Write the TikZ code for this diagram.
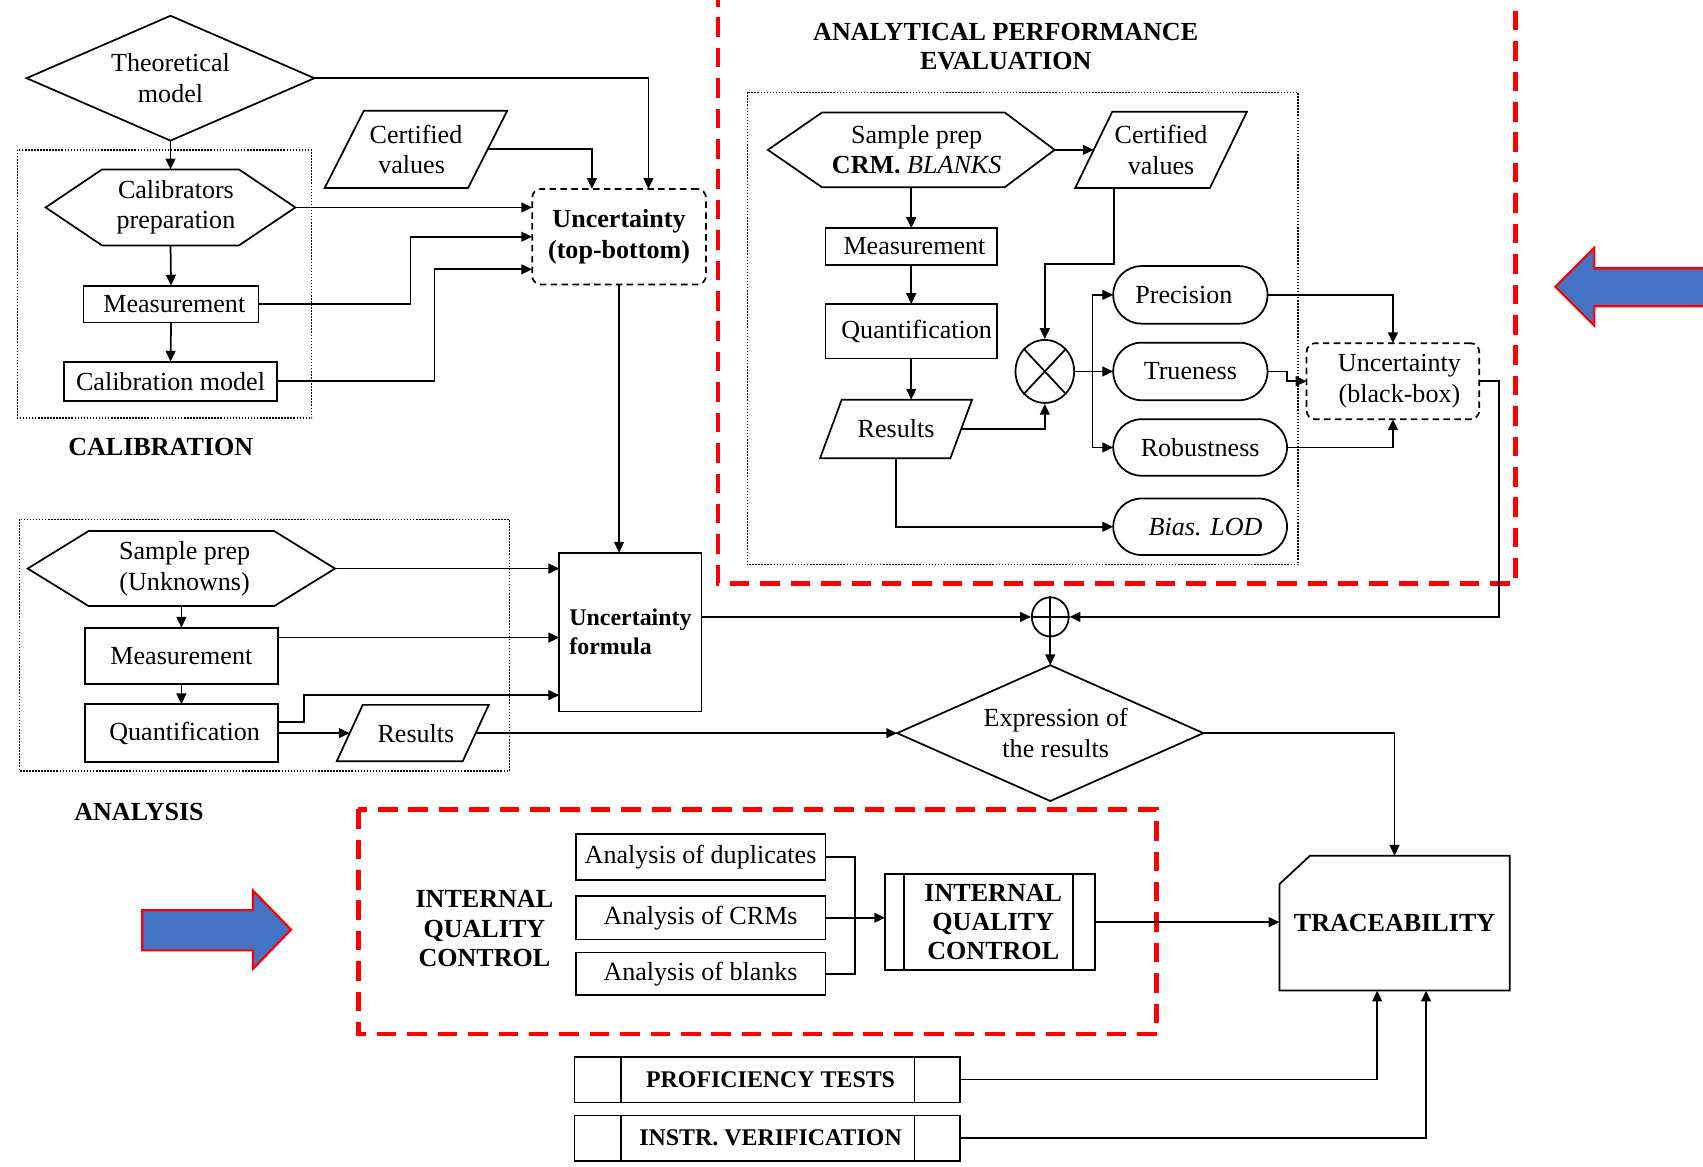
\documentclass[tikz,border=0pt]{standalone}
\usepackage{fontspec}
\setmainfont{Liberation Serif}
\usetikzlibrary{calc,shapes.geometric,arrows.meta}
\definecolor{arrowblue}{RGB}{68,114,196}
\begin{document}
\begin{tikzpicture}[x=0.5pt,y=-0.5pt,
  lbl/.style={font=\fontsize{12}{14}\selectfont, align=center, inner sep=0pt, outer sep=0pt},
  bf/.style={font=\fontsize{12}{14}\selectfont\bfseries},
  sz/.style 2 args={minimum width=#1*0.5pt, minimum height=#2*0.5pt},
  inv/.style={lbl},
  bx/.style={lbl, draw, line width=0.8pt},
  shp/.style={line width=0.8pt, line join=miter},
  ln/.style={line width=0.8pt},
  ar/.style={line width=0.8pt, -{Triangle[length=5pt,width=4.5pt]}},
  dotbox/.style={draw, line width=0.6pt, dash pattern=on 0.7pt off 0.7pt},
  dbox/.style={lbl, draw, line width=0.8pt, dash pattern=on 3pt off 2pt, rounded corners=4pt},
  stad/.style={lbl, draw, line width=0.8pt, rounded corners=13pt},
  redbox/.style={draw=red, line width=2.2pt, dash pattern=on 9pt off 5pt},
  ttl/.style={font=\fontsize{12}{13.5}\selectfont\bfseries, align=center, inner sep=0pt},
  bluearrow/.style={fill=arrowblue, draw=red, line width=1pt},
]
\useasboundingbox (0,0) rectangle (1568,1074);

% frames
\draw[redbox] (661,-40) rectangle (1395,537);
\draw[redbox] (330,745) rectangle (1065,952);
\draw[dotbox] (16,138) rectangle (287,385);
\draw[dotbox] (18,478) rectangle (469,710);
\draw[dotbox] (688,85) rectangle (1195,520);

% calibration
\node[inv, sz={265}{115}] (tm) at (157,72) {Theoretical\\model};
\node[inv, sz={230}{70}] (cal) at (157,191) {\hspace*{5pt}Calibrators\\\hspace*{5pt}preparation};
\node[bx, sz={161}{34}] (mes1) at (157.5,280) {\hspace*{3pt}Measurement};
\node[bx, sz={196}{36}] (calm) at (157,351) {Calibration model};
\node[ttl] (calt) at (148,412) {CALIBRATION};
\node[inv, sz={168}{71}] (cv1) at (383,137.5) {Certified\\values\hspace*{4pt}};
\node[dbox, bf, sz={160}{88}] (utb) at (570,218) {Uncertainty\\(top-bottom)};

% analysis
\node[inv, sz={283}{69}] (sp) at (167,523.5) {\hspace*{3pt}Sample prep\\\hspace*{3pt}(Unknowns)};
\node[bx, sz={178}{52}] (mes2) at (167,604) {Measurement};
\node[bx, sz={178}{53}] (qu2) at (167,675) {\hspace*{3pt}Quantification};
\node[inv, sz={140}{52}] (res2) at (380,675) {\hspace*{3pt}Results};
\node[bx, font=\fontsize{11}{13.5}\selectfont\bfseries, sz={131}{146}, align=left] (uf) at (580.5,582) {Uncertainty\\formula};
\node[ttl] (anat) at (128,748) {ANALYSIS};

% middle
\node[draw, ellipse, line width=0.8pt, sz={34}{36}, inner sep=0pt] (plus) at (967,568) {};
\node[inv, sz={282}{125}] (expr) at (967,675) {\hspace*{5pt}Expression of\\\hspace*{5pt}the results};
\node[inv, bf, sz={212}{124}] (trace) at (1284,850) {TRACEABILITY};

% internal quality control
\node[ttl] (iqct) at (446,855) {INTERNAL\\QUALITY\\CONTROL};
\node[bx, sz={230}{42}] (ad) at (645,789) {Analysis of duplicates};
\node[bx, sz={230}{40}] (ac) at (645,845) {Analysis of CRMs};
\node[bx, sz={230}{39}] (ab) at (645,896.5) {Analysis of blanks};
\node[bx, font=\fontsize{12}{13.5}\selectfont\bfseries, sz={193}{88}] (iqcb) at (911.5,849) {\hspace*{3pt}INTERNAL\\\hspace*{3pt}QUALITY\\\hspace*{3pt}CONTROL};
\node[bx, font=\fontsize{11}{13}\selectfont\bfseries, sz={355}{42}] (pt) at (706.5,994) {\hspace*{3pt}PROFICIENCY TESTS};
\node[bx, font=\fontsize{11}{13}\selectfont\bfseries, sz={355}{42}] (iv) at (706.5,1048) {\hspace*{3pt}INSTR. VERIFICATION};

% analytical performance evaluation
\node[ttl] (apet) at (926,43) {ANALYTICAL PERFORMANCE\\EVALUATION};
\node[inv, sz={264}{69}] (sp2) at (839,138) {\hspace*{5pt}Sample prep\\\hspace*{5pt}\textbf{CRM.} \textit{BLANKS}};
\node[inv, sz={158}{70}] (cv2) at (1069,138) {Certified\\values};
\node[bx, sz={158}{34}] (mes3) at (839,227) {\hspace*{3pt}Measurement};
\node[bx, sz={158}{50}] (qu3) at (839,305) {\hspace*{5pt}Quantification};
\node[inv, sz={140}{54}] (res3) at (825,395) {Results};
\node[draw, ellipse, line width=0.8pt, sz={54}{58}, inner sep=0pt] (ot) at (962,342) {};
\node[stad, sz={142}{53}] (prec) at (1096,271.5) {Precision\hspace*{6pt}};
\node[stad, sz={142}{53}] (tru) at (1096,342) {Trueness};
\node[stad, sz={160}{52}] (rob) at (1105,412) {Robustness};
\node[stad, sz={160}{52}] (bias) at (1105,485) {\hspace*{5pt}\textit{Bias. LOD}};
\node[dbox, sz={159}{70}] (ubb) at (1282.5,351) {\hspace*{6pt}Uncertainty\\\hspace*{6pt}(black-box)};

% shape outlines
\draw[shp] (tm.west) -- (tm.north) -- (tm.east) -- (tm.south) -- cycle;
\draw[shp] (expr.west) -- (expr.north) -- (expr.east) -- (expr.south) -- cycle;
\draw[shp] (cal.west) -- ($(cal.north west)+(52,0)$) -- ($(cal.north east)+(-52,0)$) -- (cal.east) -- ($(cal.south east)+(-52,0)$) -- ($(cal.south west)+(52,0)$) -- cycle;
\draw[shp] (sp.west) -- ($(sp.north west)+(56,0)$) -- ($(sp.north east)+(-56,0)$) -- (sp.east) -- ($(sp.south east)+(-56,0)$) -- ($(sp.south west)+(56,0)$) -- cycle;
\draw[shp] (sp2.west) -- ($(sp2.north west)+(50,0)$) -- ($(sp2.north east)+(-46,0)$) -- (sp2.east) -- ($(sp2.south east)+(-46,0)$) -- ($(sp2.south west)+(50,0)$) -- cycle;
\draw[shp] ($(cv1.north west)+(36,0)$) -- (cv1.north east) -- ($(cv1.south east)+(-36,0)$) -- (cv1.south west) -- cycle;
\draw[shp] ($(cv2.north west)+(34,0)$) -- (cv2.north east) -- ($(cv2.south east)+(-34,0)$) -- (cv2.south west) -- cycle;
\draw[shp] ($(res2.north west)+(24,0)$) -- (res2.north east) -- ($(res2.south east)+(-24,0)$) -- (res2.south west) -- cycle;
\draw[shp] ($(res3.north west)+(20,0)$) -- (res3.north east) -- ($(res3.south east)+(-20,0)$) -- (res3.south west) -- cycle;
\draw[shp] (trace.south west) -- ($(trace.north west)+(0,26)$) -- ($(trace.north west)+(28,0)$) -- (trace.north east) -- (trace.south east) -- cycle;
\draw[ln] ($(iqcb.north west)+(17,0)$) -- ($(iqcb.south west)+(17,0)$);
\draw[ln] ($(iqcb.north east)+(-20,0)$) -- ($(iqcb.south east)+(-20,0)$);
\draw[ln] ($(pt.north west)+(43,0)$) -- ($(pt.south west)+(43,0)$);
\draw[ln] ($(pt.north east)+(-42,0)$) -- ($(pt.south east)+(-42,0)$);
\draw[ln] ($(iv.north west)+(43,0)$) -- ($(iv.south west)+(43,0)$);
\draw[ln] ($(iv.north east)+(-42,0)$) -- ($(iv.south east)+(-42,0)$);
\draw[ln] (ot.north west) -- (ot.south east);
\draw[ln] (ot.north east) -- (ot.south west);
\draw[ln] (plus.north) -- (plus.south);
\draw[ln] (plus.west) -- (plus.east);

% blue arrows
\draw[bluearrow] (131,838) -- (233,838) -- (233,820) -- (268,856) -- (233,892) -- (233,875) -- (131,875) -- cycle;
\draw[bluearrow] (1600,247) -- (1468,247) -- (1468,228) -- (1432,264) -- (1468,300) -- (1468,282) -- (1600,282) -- cycle;

% connectors: calibration
\draw[ar] (tm.south) -- (cal.north);
\draw[ar] (cal.south) -- (mes1.north);
\draw[ar] (mes1.south) -- (calm.north);
\draw[ar] (tm.east) -| ($(utb.north)+(27,0)$);
\draw[ar] ($(cv1.east)+(-18,0)$) -| ($(utb.north)+(-25,0)$);
\draw[ar] (cal.east) -- (cal.east -| utb.west);
\draw[ar] (mes1.east) -- ++(140,0) |- (utb.west);
\draw[ar] (calm.east) -- ++(145,0) |- ($(utb.west)+(0,30)$);
\draw[ar] (utb.south) -- (utb.south |- uf.north);

% connectors: analysis
\draw[ar] (sp.south) -- (mes2.north);
\draw[ar] (mes2.south) -- (qu2.north);
\draw[ar] (sp.east) -- (sp.east -| uf.west);
\coordinate (m2o) at ($(mes2.north east)+(0,9)$);
\draw[ar] (m2o) -- (m2o -| uf.west);
\draw[ar] ($(qu2.east)+(0,-10)$) -- ++(24,0) |- ($(uf.west)+(0,58)$);
\draw[ar] (qu2.east) -- ($(res2.west)+(12,0)$);
\draw[ar] ($(res2.east)+(-12,0)$) -- (expr.west);
\coordinate (ufo) at ($(uf.east)+(0,-14)$);
\draw[ar] (ufo) -- (plus.west);
\draw[ar] (ubb.east) -- ++(18,0) |- (plus.east);
\draw[ar] (plus.south) -- (expr.north);
\draw[ar] (expr.east) -| (trace.north);

% connectors: quality control
\draw[ln] (ad.east) -- ++(27,0) -- ($(ab.east)+(27,0)$) -- (ab.east);
\draw[ar] (ac.east) -- (ac.east -| iqcb.west);
\draw[ar] (iqcb.east) -- (iqcb.east -| trace.west);
\draw[ar] (pt.east) -| ($(trace.south)+(-16,0)$);
\draw[ar] (iv.east) -| ($(trace.south)+(29,0)$);

% connectors: performance evaluation
\draw[ar] (sp2.east) -- ($(cv2.west)+(17,0)$);
\draw[ar] (sp2.south) -- (mes3.north);
\draw[ar] (mes3.south) -- (qu3.north);
\draw[ar] (qu3.south) -- (qu3.south |- res3.north);
\draw[ar] ($(cv2.south)+(-43,0)$) -- ++(0,70) -| (ot.north);
\draw[ar] ($(res3.east)+(-10,0)$) -| (ot.south);
\coordinate (bus) at ($(ot.east)+(16,0)$);
\draw[ar] (ot.east) -- (tru.west);
\draw[ar] (bus) |- (prec.west);
\draw[ar] (bus) |- (rob.west);
\draw[ar] (prec.east) -| (ubb.north);
\draw[ar] (tru.east) -- ++(18,0) |- (ubb.west);
\draw[ar] (rob.east) -| (ubb.south);
\draw[ar] (res3.south) |- (bias.west);
\end{tikzpicture}
\end{document}
